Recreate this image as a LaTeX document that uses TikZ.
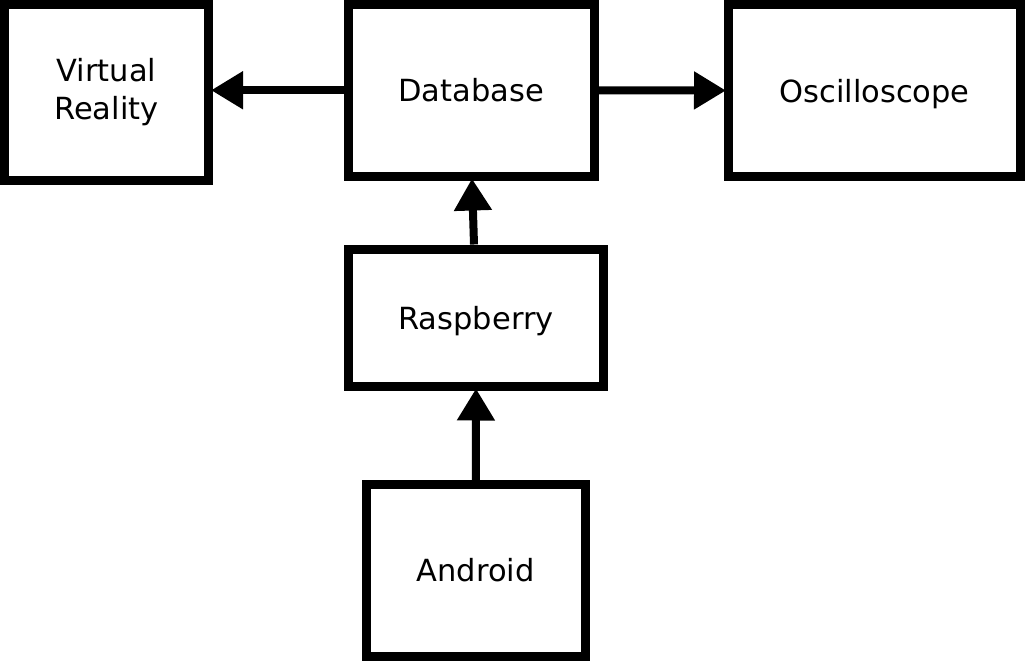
\documentclass[tikz,border=0pt]{standalone}
\usepackage{fontspec}
\setmainfont{DejaVu Sans}
\usetikzlibrary{arrows.meta}
\begin{document}
\begin{tikzpicture}[x=1pt,y=1pt,
  blockbox/.style={draw=black, line width=9pt, fill=white, inner sep=0pt, align=center,
    font=\fontsize{30.5}{38}\selectfont},
  conn/.style={line width=8pt, -{Triangle[length=32pt,width=36pt]}, shorten >=-2pt}]
\useasboundingbox (0,0) rectangle (1025,-662);
\node[blockbox, minimum width=204pt, minimum height=175.5pt] (vr) at (106.5,-92.25) {Virtual\\Reality};
\node[blockbox, minimum width=246pt, minimum height=171.5pt] (db) at (471,-90.25) {Database};
\node[blockbox, minimum width=292pt, minimum height=172pt, text depth=0pt] (osc) at (874.5,-90.5) {Oscilloscope};
\node[blockbox, minimum width=255pt, minimum height=137pt, text depth=0pt] (rasp) at (476,-317.5) {Raspberry};
\node[blockbox, minimum width=218.5pt, minimum height=172pt] (andr) at (475.75,-570.5) {Android};
\draw[conn] (db.west) -- (vr.east |- db.west);
\draw[conn] (db.east) -- (osc.west);
\draw[conn] ([xshift=-2pt]rasp.north) -- ([xshift=1pt]db.south);
\draw[conn] (andr.north) -- (rasp.south);
\end{tikzpicture}
\end{document}
